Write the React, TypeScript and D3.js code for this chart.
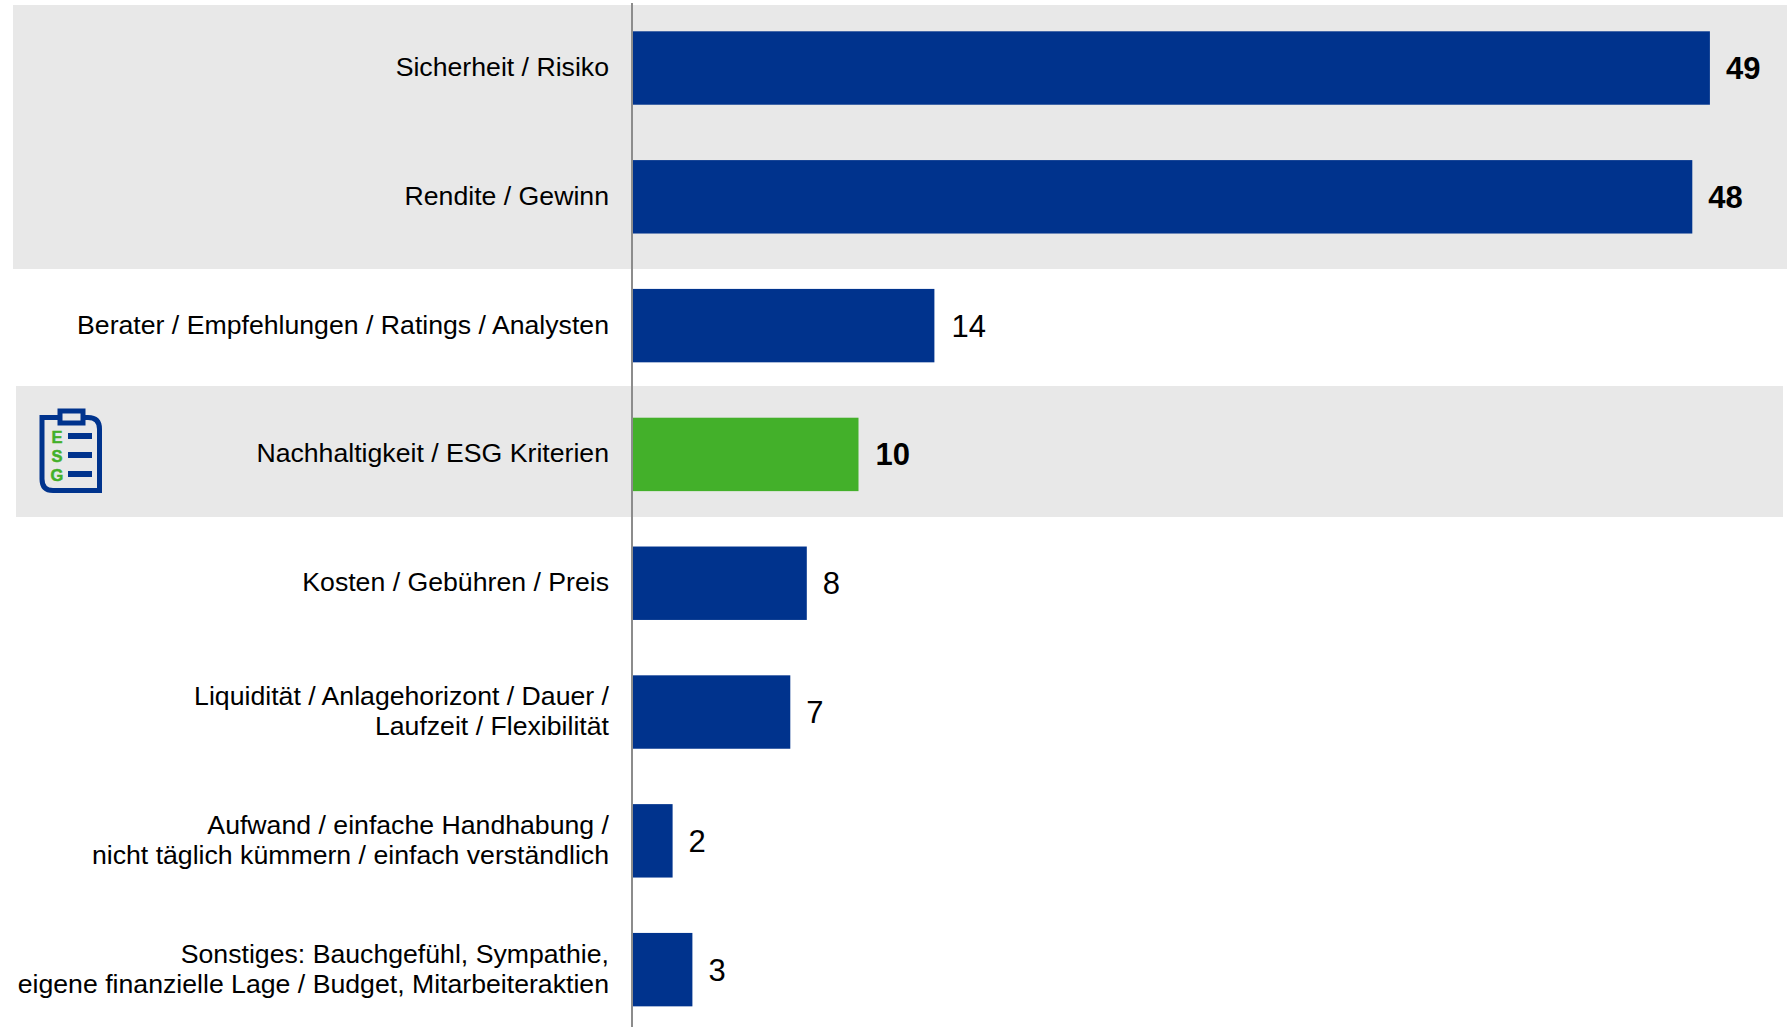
import React from "react";
import * as d3 from "d3";

const categories: string[][] = [
  ["Sicherheit / Risiko"],
  ["Rendite / Gewinn"],
  ["Berater / Empfehlungen / Ratings / Analysten"],
  ["Nachhaltigkeit / ESG Kriterien"],
  ["Kosten / Gebühren / Preis"],
  ["Liquidität / Anlagehorizont / Dauer /", "Laufzeit / Flexibilität"],
  ["Aufwand / einfache Handhabung /", "nicht täglich kümmern / einfach verständlich"],
  ["Sonstiges: Bauchgefühl, Sympathie,", "eigene finanzielle Lage / Budget, Mitarbeiteraktien"],
];
const barValues = [48.95, 48.15, 13.7, 10.25, 7.9, 7.15, 1.8, 2.7];
const valueLabels = ["49", "48", "14", "10", "8", "7", "2", "3"];
const boldLabels = [true, true, false, true, false, false, false, false];
const barColors = ["#00338d", "#00338d", "#00338d", "#43b02a", "#00338d", "#00338d", "#00338d", "#00338d"];
const esgLetters = ["E", "S", "G"];

const W = 1791;
const H = 1027;
const BLUE = "#00338d";
const GREEN = "#43b02a";
const FONT = "'Liberation Sans', Arial, sans-serif";

export default function App() {
  const x = d3.scaleLinear().domain([0, 49]).range([633, 1711]);
  const y = d3
    .scaleBand<number>()
    .domain(d3.range(categories.length))
    .range([-6.05, 1043.7])
    .paddingInner(0.43)
    .paddingOuter(0.29);
  const bw = y.bandwidth();
  return (
    <svg
      width={W}
      height={H}
      viewBox={`0 0 ${W} ${H}`}
      style={{ position: "fixed", left: 0, top: 0, background: "#fff" }}
      fontFamily={FONT}
    >
      <rect x={13} y={5} width={1774} height={264} fill="#e8e8e8" />
      <rect x={16} y={386} width={1767} height={131} fill="#e8e8e8" />

      {barValues.map((v, i) => (
        <rect key={i} x={x(0)} y={y(i)} width={x(v) - x(0)} height={bw} fill={barColors[i]} />
      ))}
      <line x1={632} x2={632} y1={3} y2={H} stroke="#8c8c8c" strokeWidth={2} />

      {categories.map((lines, i) => {
        const cy = (y(i) as number) + bw / 2;
        return (
          <text key={i} x={609} textAnchor="end" fontSize={26.67} fill="#000">
            {lines.map((l, j) => (
              <tspan key={j} x={609} y={cy + 8 + (j - (lines.length - 1) / 2) * 30}>
                {l}
              </tspan>
            ))}
          </text>
        );
      })}

      {valueLabels.map((l, i) => (
        <text
          key={i}
          x={x(barValues[i]) + (i === 2 || i === 3 ? 17 : 16)}
          y={(y(i) as number) + bw / 2 + 11}
          fontSize={31}
          fontWeight={boldLabels[i] ? 700 : 400}
          fill="#000"
        >
          {l}
        </text>
      ))}

      <g>
        <path
          d="M42 417.5 H88 Q99.5 417.5 99.5 429 V490.5 H53 Q42 490.5 42 479 Z"
          fill="none"
          stroke={BLUE}
          strokeWidth={5}
        />
        <rect x={60} y={411} width={23} height={12} fill="#e8e8e8" stroke={BLUE} strokeWidth={5} />
        <text
          textAnchor="middle"
          fontWeight={700}
          fontSize={16.5}
          fill={GREEN}
          stroke={GREEN}
          strokeWidth={0.5}
        >
          {esgLetters.map((c, i) => (
            <tspan key={c} x={57} y={443 + i * 19}>
              {c}
            </tspan>
          ))}
        </text>
        {esgLetters.map((c, i) => (
          <rect key={c} x={68} y={433 + i * 19} width={24} height={6} fill={BLUE} />
        ))}
      </g>
    </svg>
  );
}
